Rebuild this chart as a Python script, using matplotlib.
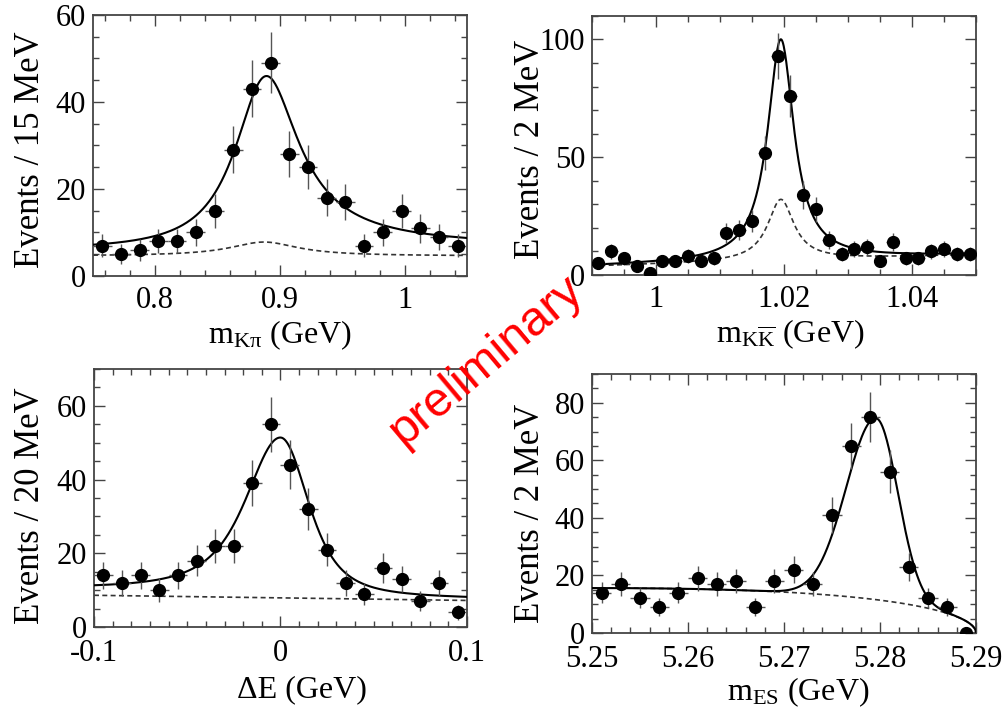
import numpy as np
import matplotlib
matplotlib.use("Agg")
import matplotlib.pyplot as plt
from matplotlib.ticker import MultipleLocator, FuncFormatter

plt.rcParams['font.family'] = 'serif'
plt.rcParams['font.serif'] = ['Liberation Serif', 'DejaVu Serif']
plt.rcParams['mathtext.fontset'] = 'custom'
plt.rcParams['mathtext.rm'] = 'Liberation Serif'
plt.rcParams['mathtext.it'] = 'Liberation Serif:italic'
plt.rcParams['axes.unicode_minus'] = False

# ---- data ----
# m(K pi), 15 MeV bins
kpi_x = [0.7575, 0.7725, 0.7875, 0.8025, 0.8175, 0.8325, 0.8475, 0.8625, 0.8775, 0.8925,
         0.9075, 0.9225, 0.9375, 0.9525, 0.9675, 0.9825, 0.9975, 1.0125, 1.0275, 1.0425]
kpi_y = [7, 5, 6, 8, 8, 10, 15, 29, 43, 49, 28, 25, 18, 17, 7, 10, 15, 11, 9, 7]

# m(K Kbar), 2 MeV bins
kk_x = [0.991, 0.993, 0.995, 0.997, 0.999, 1.001, 1.003, 1.005, 1.007, 1.009,
        1.011, 1.013, 1.015, 1.017, 1.019, 1.021, 1.023, 1.025, 1.027, 1.029,
        1.031, 1.033, 1.035, 1.037, 1.039, 1.041, 1.043, 1.045, 1.047, 1.049]
kk_y = [5, 10, 7, 4, 1, 6, 6, 8, 6, 7, 18, 19, 23, 52, 93, 76, 34, 28, 15, 9,
        11, 12, 6, 14, 7, 7, 10, 11, 9, 9]

# Delta E, 10 MeV bins
de_x = [-0.095, -0.085, -0.075, -0.065, -0.055, -0.045, -0.035, -0.025, -0.015, -0.005,
        0.005, 0.015, 0.025, 0.035, 0.045, 0.055, 0.065, 0.075, 0.085, 0.095]
de_y = [14, 12, 14, 10, 14, 18, 22, 22, 39, 55, 44, 32, 21, 12, 9, 16, 13, 7, 12, 4]

# m_ES, 2 MeV bins
mes_x = [5.251, 5.253, 5.255, 5.257, 5.259, 5.261, 5.263, 5.265, 5.267, 5.269,
         5.271, 5.273, 5.275, 5.277, 5.279, 5.281, 5.283, 5.285, 5.287, 5.289]
mes_y = [14, 17, 12, 9, 14, 19, 17, 18, 9, 18, 22, 17, 41, 65, 75, 56, 23, 12, 9, 0]

# fit parameters
kpi_fit = dict(m0=0.8872, gam=0.062, amp=36.5, skew=4.0, flat=1.5,
               bkg=4.6, bump=3.2, bump_gam=0.067)
kk_fit = dict(m0=1.0195, gam=0.005, sig=94.0, peak_bkg=26.0, b0=3.7, slope=81.7)
de_fit = dict(mu=0.0, amp=43.5, sl=0.0174, al=0.30, sr=0.014, ar=0.224, b0=8.6, b1=7.2)
mes_fit = dict(m0=5.29, c=-33.0, norm5250=15.6, mu=5.2796, amp=63.0, sl=0.0031, sr=0.00226)


def bw(x, m0, gam):
    return 1.0 / (1.0 + ((x - m0) / (gam / 2)) ** 2)


def argus(x, m0, c):
    z = np.clip(1 - (x / m0) ** 2, 0, None)
    return x * np.sqrt(z) * np.exp(c * z)


def kpi_curves(x, p):
    bg = p['bkg'] + p['bump'] * bw(x, p['m0'], p['bump_gam'])
    tot = bg + p['flat'] + p['amp'] * bw(x, p['m0'], p['gam']) * (x / p['m0']) ** p['skew']
    return tot, bg


def kk_curves(x, p):
    lin = p['b0'] + p['slope'] * (x - 0.99)
    bg = lin + p['peak_bkg'] * bw(x, p['m0'], p['gam'])
    tot = lin + p['sig'] * bw(x, p['m0'], p['gam'])
    return tot, bg


def de_curves(x, p):
    bg = p['b0'] + (p['b1'] - p['b0']) * (x + 0.1) / 0.2
    dx = x - p['mu']
    s = np.where(dx < 0, p['sl'], p['sr'])
    a = np.where(dx < 0, p['al'], p['ar'])
    tot = bg + p['amp'] * np.exp(-dx ** 2 / (2 * s ** 2 + a * dx ** 2))
    return tot, bg


def mes_curves(x, p):
    bg = p['norm5250'] * argus(x, p['m0'], p['c']) / argus(np.array(5.25), p['m0'], p['c'])
    dx = x - p['mu']
    s = np.where(dx < 0, p['sl'], p['sr'])
    tot = bg + p['amp'] * np.exp(-0.5 * (dx / s) ** 2)
    return tot, bg


fmt = FuncFormatter(lambda v, pos: f'{v:g}')


def panel(rect, xs, ys, halfbin, curves, pars, xlim, ylim, xmaj, xmin, ymaj, ymin,
          xlabel, ylabel, xl_pos, yl_pos, xpad=7):
    ax = fig.add_axes(rect)
    xx = np.linspace(xlim[0], xlim[1], 600)
    tot, bg = curves(xx, pars)
    ax.plot(xx, bg, ls=(0, (3, 2)), color='#333333', lw=1.2, zorder=2)
    ax.plot(xx, tot, color='black', lw=1.5, zorder=3)
    ys = np.array(ys, dtype=float)
    ax.errorbar(xs, ys, yerr=np.sqrt(ys), xerr=halfbin, fmt='o', color='black',
                ecolor='#555555', elinewidth=1.0, ms=8.5, capsize=0, zorder=4)
    ax.set_xlim(*xlim)
    ax.set_ylim(*ylim)
    ax.xaxis.set_major_locator(MultipleLocator(xmaj))
    ax.xaxis.set_minor_locator(MultipleLocator(xmin))
    ax.yaxis.set_major_locator(MultipleLocator(ymaj))
    ax.yaxis.set_minor_locator(MultipleLocator(ymin))
    ax.xaxis.set_major_formatter(fmt)
    ax.yaxis.set_major_formatter(fmt)
    ax.tick_params(which='both', direction='in', top=True, right=True,
                   labelsize=22, color='#444444', width=1.0)
    ax.tick_params(which='major', length=8, pad=5)
    ax.tick_params(which='minor', length=4)
    ax.tick_params(axis='x', pad=xpad)
    for s in ax.spines.values():
        s.set_color('#444444')
        s.set_linewidth(1.3)
    ax.set_xlabel(xlabel, fontsize=23)
    ax.xaxis.set_label_coords(xl_pos[0], xl_pos[1])
    ax.xaxis.label.set_va('center')
    ax.set_ylabel(ylabel, fontsize=25)
    ax.yaxis.set_label_coords(yl_pos[0], yl_pos[1])
    ax.yaxis.label.set_va('center')
    return ax


fig = plt.figure(figsize=(10.06, 7.12), dpi=100)

panel([0.0924, 0.6124, 0.3718, 0.3666], kpi_x, kpi_y, 0.0075, kpi_curves, kpi_fit,
      (0.75, 1.05), (0, 60), 0.1, 0.02, 20, 5,
      r'$\mathrm{m}_{\mathrm{K\pi}}$ (GeV)', 'Events / 15 MeV', (0.5, -0.226), (-0.168, 0.483))
panel([0.5885, 0.6138, 0.3817, 0.3638], kk_x, kk_y, 0.001, kk_curves, kk_fit,
      (0.99, 1.05), (0, 110), 0.02, 0.005, 50, 10,
      r'$\mathrm{m}_{\mathrm{K\overline{K}}}$ (GeV)', 'Events / 2 MeV', (0.516, -0.228), (-0.161, 0.483))
panel([0.0934, 0.1194, 0.3708, 0.3624], de_x, de_y, 0.005, de_curves, de_fit,
      (-0.1, 0.1), (0, 70), 0.1, 0.01, 20, 5,
      'ΔE (GeV)', 'Events / 20 MeV', (0.558, -0.244), (-0.17, 0.47), xpad=9)
panel([0.5885, 0.1110, 0.3817, 0.3638], mes_x, mes_y, 0.001, mes_curves, mes_fit,
      (5.25, 5.29), (0, 90), 0.01, 0.002, 20, 5,
      r'$\mathrm{m}_{\mathrm{ES}}$ (GeV)', 'Events / 2 MeV', (0.536, -0.228), (-0.161, 0.46), xpad=9)

fig.text(0.484, 0.494, 'preliminary', color='red', fontsize=35,
         family=['Liberation Sans', 'DejaVu Sans'], rotation=40,
         ha='center', va='center', rotation_mode='anchor', zorder=10)

fig.savefig('out.png', dpi=100)
